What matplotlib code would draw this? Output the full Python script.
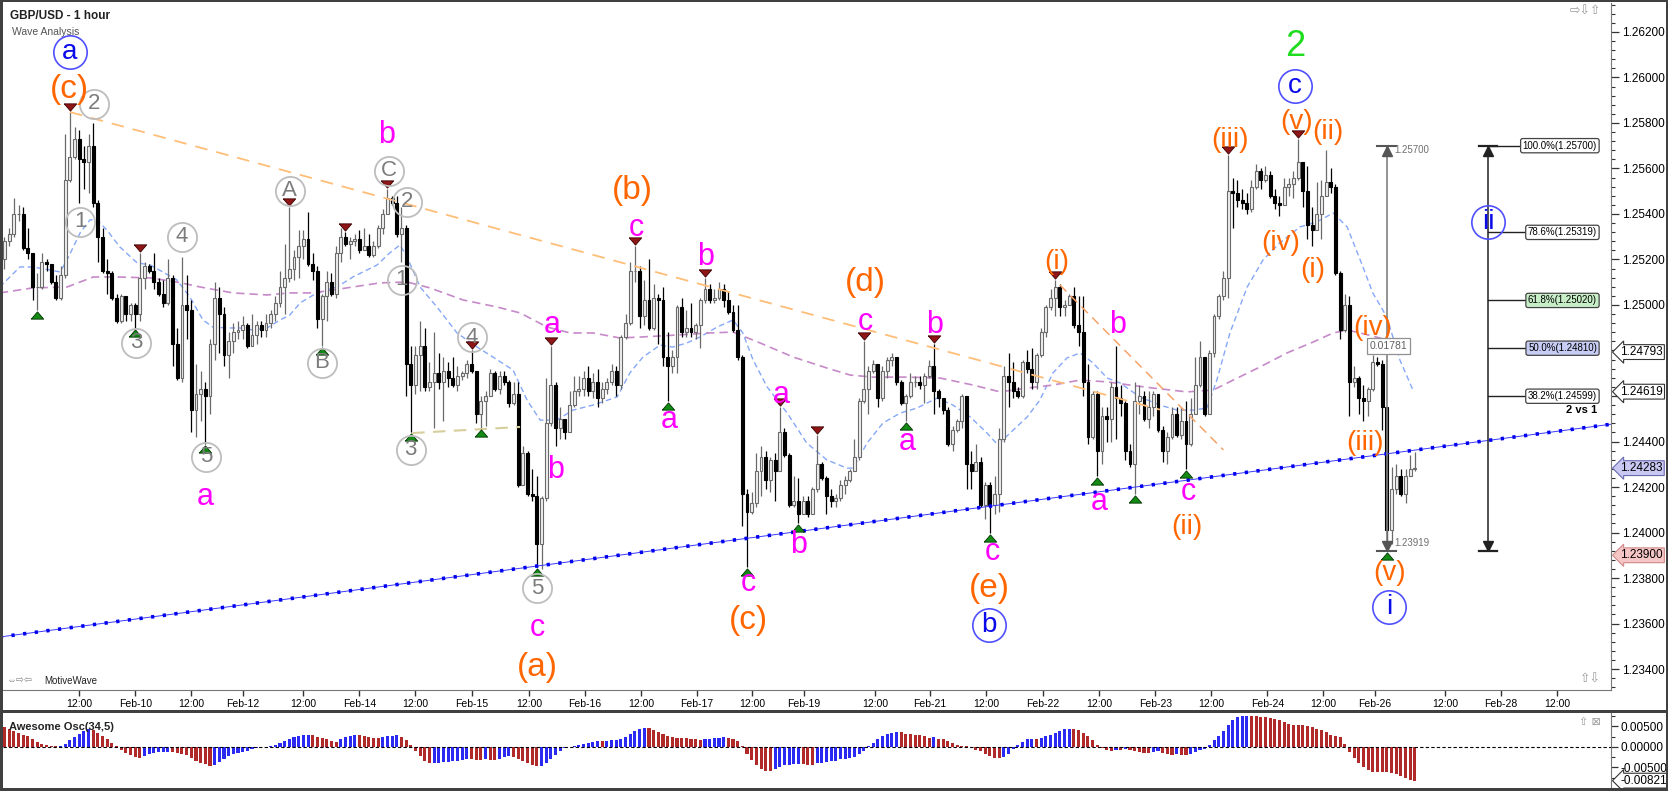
import numpy as np
import matplotlib
matplotlib.use("Agg")
import matplotlib.pyplot as plt
from matplotlib import transforms
from matplotlib.ticker import MultipleLocator, FormatStrFormatter, FuncFormatter
from matplotlib.patches import Rectangle

plt.rcParams['font.family'] = ['Liberation Sans', 'DejaVu Sans']

# ---- GBP/USD hourly candles (open = previous close) ----
first_open = 1.2520
close = [1.2528, 1.2531, 1.2540, 1.2540, 1.2525, 1.2523, 1.2508, 1.2508, 1.2519, 1.2518,
         1.2510, 1.2503, 1.2513, 1.2555, 1.2565, 1.2573, 1.2564, 1.2563, 1.2570, 1.2545,
         1.2530, 1.2515, 1.2514, 1.2503, 1.2493, 1.2504, 1.2496, 1.2500, 1.2496, 1.2512,
         1.2517, 1.2515, 1.2510, 1.2505, 1.2501, 1.2512, 1.2483, 1.2468, 1.2500, 1.2498,
         1.2454, 1.2461, 1.2463, 1.2460, 1.2483, 1.2503, 1.2496, 1.2478, 1.2484, 1.2488,
         1.2489, 1.2491, 1.2482, 1.2487, 1.2491, 1.2489, 1.2492, 1.2496, 1.2501, 1.2508,
         1.2512, 1.2516, 1.2521, 1.2526, 1.2529, 1.2518, 1.2515, 1.2494, 1.2504, 1.2510,
         1.2505, 1.2523, 1.2530, 1.2527, 1.2528, 1.2529, 1.2524, 1.2526, 1.2522, 1.2526,
         1.2534, 1.2540, 1.2547, 1.2545, 1.2531, 1.2534, 1.2474, 1.2465, 1.2478, 1.2482,
         1.2464, 1.2466, 1.2470, 1.2466, 1.2471, 1.2468, 1.2465, 1.2469, 1.2470, 1.2474,
         1.2471, 1.2452, 1.2458, 1.2460, 1.2470, 1.2463, 1.2469, 1.2466, 1.2457, 1.2461,
         1.2421, 1.2435, 1.2417, 1.2416, 1.2395, 1.2415, 1.2448, 1.2465, 1.2446, 1.2450,
         1.2444, 1.2456, 1.2462, 1.2463, 1.2468, 1.2462, 1.2466, 1.2459, 1.2463, 1.2466,
         1.2471, 1.2465, 1.2486, 1.2492, 1.2515, 1.2515, 1.2495, 1.2502, 1.2490, 1.2503,
         1.2502, 1.2477, 1.2473, 1.2477, 1.2499, 1.2488, 1.2490, 1.2488, 1.2491, 1.2502,
         1.2507, 1.2502, 1.2503, 1.2507, 1.2502, 1.2497, 1.2489, 1.2477, 1.2417, 1.2409,
         1.2413, 1.2427, 1.2433, 1.2423, 1.2432, 1.2427, 1.2444, 1.2434, 1.2412, 1.2414,
         1.2408, 1.2414, 1.2408, 1.2419, 1.2430, 1.2424, 1.2416, 1.2414, 1.2415, 1.2421,
         1.2423, 1.2427, 1.2433, 1.2458, 1.2463, 1.2471, 1.2474, 1.2459, 1.2471, 1.2476,
         1.2477, 1.2466, 1.2457, 1.2460, 1.2466, 1.2466, 1.2465, 1.2469, 1.2473, 1.2462,
         1.2459, 1.2454, 1.2439, 1.2445, 1.2449, 1.2460, 1.2430, 1.2427, 1.2431, 1.2412,
         1.2421, 1.2412, 1.2417, 1.2441, 1.2469, 1.2466, 1.2462, 1.2460, 1.2475, 1.2472,
         1.2466, 1.2478, 1.2488, 1.2499, 1.2503, 1.2508, 1.2499, 1.2500, 1.2504, 1.2491,
         1.2488, 1.2466, 1.2442, 1.2461, 1.2436, 1.2451, 1.2450, 1.2464, 1.2459, 1.2457,
         1.2436, 1.2430, 1.2458, 1.2460, 1.2450, 1.2455, 1.2461, 1.2445, 1.2436, 1.2442,
         1.2452, 1.2443, 1.2449, 1.2439, 1.2452, 1.2465, 1.2477, 1.2452, 1.2479, 1.2495,
         1.2504, 1.2512, 1.2550, 1.2549, 1.2546, 1.2545, 1.2542, 1.2552, 1.2559, 1.2555,
         1.2557, 1.2548, 1.2545, 1.2544, 1.2552, 1.2553, 1.2556, 1.2563, 1.2550, 1.2535,
         1.2533, 1.2540, 1.2548, 1.2554, 1.2552, 1.2514, 1.2489, 1.2500, 1.2466, 1.2468,
         1.2459, 1.2458, 1.2463, 1.2475, 1.2474, 1.2455, 1.2401, 1.2419, 1.2425, 1.2417,
         1.2425, 1.2428, 1.24283]
high = [1.2530, 1.2534, 1.2547, 1.2544, 1.2543, 1.2534, 1.2523, 1.2514, 1.2523, 1.2520,
        1.2518, 1.2513, 1.2517, 1.2575, 1.2585, 1.2578, 1.2577, 1.2570, 1.2575, 1.2580,
        1.2546, 1.2534, 1.2520, 1.2515, 1.2505, 1.2505, 1.2504, 1.2501, 1.2501, 1.2523,
        1.2519, 1.2518, 1.2523, 1.2512, 1.2511, 1.2520, 1.2513, 1.2490, 1.2521, 1.2513,
        1.2502, 1.2474, 1.2471, 1.2466, 1.2485, 1.2510, 1.2508, 1.2499, 1.2488, 1.2492,
        1.2493, 1.2495, 1.2492, 1.2496, 1.2493, 1.2493, 1.2496, 1.2498, 1.2504, 1.2515,
        1.2527, 1.2543, 1.2524, 1.2533, 1.2533, 1.2541, 1.2523, 1.2517, 1.2505, 1.2515,
        1.2514, 1.2526, 1.2534, 1.2532, 1.2530, 1.2531, 1.2533, 1.2534, 1.2531, 1.2528,
        1.2535, 1.2542, 1.2551, 1.2548, 1.2548, 1.2543, 1.2535, 1.2482, 1.2482, 1.2493,
        1.2490, 1.2475, 1.2488, 1.2479, 1.2477, 1.2475, 1.2477, 1.2473, 1.2471, 1.2476,
        1.2480, 1.2471, 1.2460, 1.2462, 1.2472, 1.2471, 1.2471, 1.2471, 1.2467, 1.2466,
        1.2466, 1.2438, 1.2436, 1.2428, 1.2425, 1.2416, 1.2468, 1.2482, 1.2466, 1.2455,
        1.2449, 1.2462, 1.2469, 1.2469, 1.2471, 1.2473, 1.2470, 1.2472, 1.2466, 1.2468,
        1.2474, 1.2473, 1.2487, 1.2496, 1.2519, 1.2526, 1.2517, 1.2511, 1.2520, 1.2509,
        1.2505, 1.2508, 1.2488, 1.2480, 1.2500, 1.2503, 1.2498, 1.2501, 1.2492, 1.2503,
        1.2512, 1.2509, 1.2507, 1.2510, 1.2509, 1.2506, 1.2500, 1.2500, 1.2478, 1.2419,
        1.2418, 1.2435, 1.2438, 1.2436, 1.2433, 1.2435, 1.2455, 1.2446, 1.2435, 1.2425,
        1.2424, 1.2416, 1.2416, 1.2420, 1.2443, 1.2431, 1.2425, 1.2419, 1.2417, 1.2423,
        1.2425, 1.2428, 1.2441, 1.2459, 1.2484, 1.2473, 1.2476, 1.2474, 1.2473, 1.2477,
        1.2479, 1.2477, 1.2467, 1.2461, 1.2470, 1.2469, 1.2469, 1.2470, 1.2476, 1.2483,
        1.2463, 1.2459, 1.2455, 1.2447, 1.2450, 1.2461, 1.2460, 1.2436, 1.2439, 1.2433,
        1.2422, 1.2422, 1.2425, 1.2446, 1.2473, 1.2479, 1.2475, 1.2464, 1.2476, 1.2480,
        1.2481, 1.2479, 1.2490, 1.2500, 1.2507, 1.2511, 1.2509, 1.2502, 1.2505, 1.2508,
        1.2504, 1.2504, 1.2474, 1.2462, 1.2462, 1.2455, 1.2455, 1.2466, 1.2482, 1.2465,
        1.2458, 1.2439, 1.2466, 1.2465, 1.2462, 1.2462, 1.2462, 1.2457, 1.2447, 1.2444,
        1.2455, 1.2455, 1.2455, 1.2458, 1.2459, 1.2477, 1.2484, 1.2477, 1.2480, 1.2496,
        1.2505, 1.2515, 1.2566, 1.2556, 1.2555, 1.2551, 1.2549, 1.2555, 1.2562, 1.2560,
        1.2561, 1.2559, 1.2551, 1.2548, 1.2556, 1.2556, 1.2559, 1.2573, 1.2560, 1.2561,
        1.2543, 1.2554, 1.2555, 1.2568, 1.2560, 1.2553, 1.2515, 1.2505, 1.2504, 1.2473,
        1.2469, 1.2465, 1.2464, 1.2478, 1.2477, 1.2476, 1.2455, 1.2429, 1.2430, 1.2428,
        1.2428, 1.2434, 1.24355]
low = [1.2516, 1.2526, 1.2530, 1.2537, 1.2524, 1.2520, 1.2502, 1.2498, 1.2507, 1.2515,
       1.2509, 1.2502, 1.2502, 1.2512, 1.2554, 1.2564, 1.2545, 1.2551, 1.2549, 1.2543,
       1.2519, 1.2514, 1.2505, 1.2502, 1.2492, 1.2492, 1.2493, 1.2493, 1.2490, 1.2493,
       1.2507, 1.2514, 1.2507, 1.2504, 1.2499, 1.2500, 1.2473, 1.2467, 1.2466, 1.2485,
       1.2444, 1.2442, 1.2449, 1.2439, 1.2452, 1.2476, 1.2479, 1.2473, 1.2468, 1.2479,
       1.2485, 1.2485, 1.2481, 1.2482, 1.2483, 1.2486, 1.2486, 1.2490, 1.2493, 1.2499,
       1.2496, 1.2510, 1.2511, 1.2512, 1.2520, 1.2517, 1.2511, 1.2490, 1.2482, 1.2493,
       1.2504, 1.2503, 1.2519, 1.2526, 1.2520, 1.2526, 1.2523, 1.2525, 1.2521, 1.2521,
       1.2525, 1.2531, 1.2540, 1.2544, 1.2530, 1.2519, 1.2460, 1.2444, 1.2461, 1.2462,
       1.2462, 1.2462, 1.2446, 1.2463, 1.2449, 1.2464, 1.2464, 1.2462, 1.2467, 1.2468,
       1.2470, 1.2448, 1.2446, 1.2447, 1.2460, 1.2462, 1.2461, 1.2465, 1.2455, 1.2456,
       1.2420, 1.2421, 1.2416, 1.2414, 1.2385, 1.2384, 1.2414, 1.2447, 1.2438, 1.2441,
       1.2441, 1.2444, 1.2455, 1.2460, 1.2460, 1.2460, 1.2459, 1.2455, 1.2457, 1.2461,
       1.2465, 1.2460, 1.2463, 1.2485, 1.2491, 1.2510, 1.2490, 1.2491, 1.2489, 1.2489,
       1.2483, 1.2473, 1.2458, 1.2470, 1.2470, 1.2486, 1.2486, 1.2486, 1.2485, 1.2481,
       1.2501, 1.2501, 1.2501, 1.2502, 1.2499, 1.2496, 1.2488, 1.2476, 1.2403, 1.2385,
       1.2408, 1.2411, 1.2416, 1.2419, 1.2418, 1.2414, 1.2427, 1.2433, 1.2411, 1.2411,
       1.2404, 1.2408, 1.2407, 1.2408, 1.2418, 1.2423, 1.2408, 1.2411, 1.2411, 1.2414,
       1.2417, 1.2422, 1.2427, 1.2432, 1.2457, 1.2452, 1.2470, 1.2455, 1.2458, 1.2468,
       1.2473, 1.2465, 1.2456, 1.2449, 1.2459, 1.2464, 1.2463, 1.2457, 1.2468, 1.2452,
       1.2455, 1.2452, 1.2438, 1.2436, 1.2444, 1.2446, 1.2419, 1.2419, 1.2427, 1.2411,
       1.2406, 1.2400, 1.2408, 1.2409, 1.2440, 1.2455, 1.2459, 1.2459, 1.2459, 1.2470,
       1.2463, 1.2463, 1.2477, 1.2486, 1.2498, 1.2495, 1.2495, 1.2495, 1.2501, 1.2490,
       1.2482, 1.2460, 1.2439, 1.2441, 1.2425, 1.2430, 1.2440, 1.2440, 1.2441, 1.2451,
       1.2432, 1.2429, 1.2417, 1.2452, 1.2449, 1.2446, 1.2451, 1.2444, 1.2431, 1.2430,
       1.2441, 1.2442, 1.2441, 1.2428, 1.2438, 1.2452, 1.2464, 1.2451, 1.2452, 1.2477,
       1.2494, 1.2502, 1.2503, 1.2534, 1.2543, 1.2542, 1.2540, 1.2541, 1.2551, 1.2551,
       1.2554, 1.2547, 1.2542, 1.2539, 1.2544, 1.2548, 1.2547, 1.2555, 1.2543, 1.2529,
       1.2526, 1.2534, 1.2529, 1.2551, 1.2549, 1.2513, 1.2485, 1.2488, 1.2451, 1.2464,
       1.2452, 1.2449, 1.2451, 1.2462, 1.2473, 1.2445, 1.23919, 1.2395, 1.2417, 1.2416,
       1.2413, 1.2425, 1.2427]

# Awesome Oscillator (34,5), one bar per candle
ao = [0.00488, 0.00431, 0.00382, 0.00341, 0.00301, 0.00260, 0.00203, 0.00122, 0.00065, 0.00041,
      0.00024, 0.00016, 0.00024, 0.00073, 0.00163, 0.00244, 0.00325, 0.00398, 0.00447, 0.00415,
      0.00350, 0.00268, 0.00187, 0.00106, 0.00024, -0.00065, -0.00146, -0.00203, -0.00244, -0.00260,
      -0.00220, -0.00179, -0.00154, -0.00130, -0.00122, -0.00114, -0.00130, -0.00154, -0.00179, -0.00203,
      -0.00268, -0.00333, -0.00382, -0.00423, -0.00455, -0.00431, -0.00366, -0.00285, -0.00211, -0.00171,
      -0.00146, -0.00122, -0.00089, -0.00049, -0.00024, -0.00008, 0.00008, 0.00024, 0.00057, 0.00098,
      0.00154, 0.00203, 0.00236, 0.00268, 0.00285, 0.00301, 0.00285, 0.00252, 0.00220, 0.00187,
      0.00146, 0.00122, 0.00187, 0.00236, 0.00268, 0.00285, 0.00285, 0.00260, 0.00244, 0.00228,
      0.00228, 0.00244, 0.00260, 0.00268, 0.00285, 0.00252, 0.00171, 0.00041, -0.00106, -0.00220,
      -0.00333, -0.00398, -0.00390, -0.00382, -0.00374, -0.00366, -0.00350, -0.00333, -0.00317, -0.00301,
      -0.00301, -0.00309, -0.00309, -0.00301, -0.00309, -0.00317, -0.00285, -0.00252, -0.00228, -0.00252,
      -0.00285, -0.00333, -0.00382, -0.00431, -0.00472, -0.00455, -0.00382, -0.00301, -0.00203, -0.00106,
      -0.00024, 0.00008, 0.00024, 0.00041, 0.00073, 0.00098, 0.00122, 0.00138, 0.00138, 0.00154,
      0.00163, 0.00179, 0.00203, 0.00252, 0.00317, 0.00390, 0.00439, 0.00463, 0.00455, 0.00415,
      0.00366, 0.00317, 0.00276, 0.00244, 0.00228, 0.00220, 0.00211, 0.00203, 0.00203, 0.00171,
      0.00187, 0.00203, 0.00211, 0.00220, 0.00236, 0.00228, 0.00203, 0.00138, 0.00024, -0.00163,
      -0.00325, -0.00431, -0.00545, -0.00593, -0.00593, -0.00545, -0.00488, -0.00447, -0.00431, -0.00423,
      -0.00415, -0.00423, -0.00431, -0.00431, -0.00398, -0.00382, -0.00366, -0.00350, -0.00333, -0.00301,
      -0.00285, -0.00268, -0.00236, -0.00171, -0.00098, 0.00016, 0.00106, 0.00203, 0.00268, 0.00309,
      0.00341, 0.00366, 0.00366, 0.00325, 0.00309, 0.00293, 0.00285, 0.00268, 0.00228, 0.00236,
      0.00203, 0.00187, 0.00146, 0.00098, 0.00057, 0.00033, 0.00016, -0.00016, -0.00065, -0.00106,
      -0.00163, -0.00220, -0.00268, -0.00268, -0.00244, -0.00163, -0.00057, 0.00041, 0.00122, 0.00187,
      0.00203, 0.00203, 0.00220, 0.00260, 0.00301, 0.00350, 0.00398, 0.00431, 0.00439, 0.00439,
      0.00407, 0.00350, 0.00268, 0.00163, 0.00057, -0.00024, -0.00081, -0.00106, -0.00065, -0.00065,
      -0.00041, -0.00065, -0.00098, -0.00122, -0.00138, -0.00146, -0.00130, -0.00106, -0.00146, -0.00179,
      -0.00187, -0.00171, -0.00187, -0.00187, -0.00171, -0.00122, -0.00065, -0.00041, 0.00041, 0.00163,
      0.00268, 0.00382, 0.00545, 0.00667, 0.00724, 0.00756, 0.00764, 0.00756, 0.00748, 0.00732,
      0.00724, 0.00707, 0.00691, 0.00659, 0.00610, 0.00569, 0.00545, 0.00537, 0.00528, 0.00512,
      0.00496, 0.00447, 0.00407, 0.00366, 0.00285, 0.00268, 0.00244, 0.00081, -0.00122, -0.00268,
      -0.00382, -0.00488, -0.00569, -0.00610, -0.00610, -0.00610, -0.00610, -0.00626, -0.00667, -0.00715,
      -0.00750, -0.00795, -0.00821]

# moving averages drawn on the chart (candle index, price)
ma_fast_x = [-1.0, 3.3, 6.1, 9.7, 11.9, 13.4, 16.2, 18.3, 19.8, 21.9, 24.7, 28.4, 31.2, 33.9, 36.9,
             39.7, 42.5, 44.6, 47.6, 50.4, 53.2, 56.2, 59.0, 61.1, 63.3, 66.9, 71.2, 74.6, 79.8, 82.5,
             84.7, 86.2, 89.0, 92.6, 96.9, 101.2, 104.6, 108.9, 111.9, 114.7, 118.3, 121.7, 126.0,
             131.2, 133.9, 136.7, 140.4, 143.1, 146.1, 148.9, 152.6, 156.0, 158.1, 160.3, 163.3, 167.6,
             171.8, 176.1, 180.4, 181.7, 184.7, 188.1, 191.8, 195.4, 199.7, 203.1, 206.8, 210.4, 212.7,
             215.3, 219.0, 221.7, 224.5, 227.5, 230.3, 233.1, 236.1, 238.9, 243.1, 247.4, 251.1, 254.5,
             257.5, 259.6, 262.4, 266.1, 269.5, 273.1, 277.4, 281.0, 284.5, 287.5, 290.3, 293.0, 296.0,
             298.8, 301.6]
ma_fast_y = [1.25079, 1.25167, 1.25167, 1.25154, 1.25145, 1.25198, 1.25317, 1.25374, 1.25374, 1.25330,
             1.25255, 1.25185, 1.25176, 1.25145, 1.25110, 1.25035, 1.24934, 1.24903, 1.24899, 1.24899,
             1.24890, 1.24899, 1.24934, 1.24956, 1.25009, 1.25053, 1.25079, 1.25123, 1.25176, 1.25229,
             1.25264, 1.25211, 1.25079, 1.24991, 1.24877, 1.24815, 1.24771, 1.24714, 1.24582, 1.24494,
             1.24494, 1.24538, 1.24560, 1.24596, 1.24701, 1.24771, 1.24824, 1.24815, 1.24833, 1.24859,
             1.24903, 1.24934, 1.24877, 1.24758, 1.24640, 1.24525, 1.24393, 1.24319, 1.24283, 1.24283,
             1.24393, 1.24481, 1.24525, 1.24547, 1.24591, 1.24560, 1.24508, 1.24437, 1.24385, 1.24437,
             1.24508, 1.24582, 1.24701, 1.24767, 1.24789, 1.24745, 1.24679, 1.24657, 1.24596, 1.24560,
             1.24538, 1.24538, 1.24547, 1.24670, 1.24877, 1.25079, 1.25198, 1.25273, 1.25343, 1.25365,
             1.25404, 1.25343, 1.25198, 1.25053, 1.24947, 1.24758, 1.24626]
ma_slow_x = [-1.0, 6.1, 13.4, 19.0, 24.1, 31.2, 36.9, 41.9, 48.9, 56.2, 61.1, 66.1, 73.3, 80.4, 86.2,
             91.1, 98.2, 105.5, 110.4, 116.2, 121.1, 126.0, 131.8, 136.1, 144.0, 151.1, 156.0, 161.8,
             168.9, 176.1, 181.1, 186.0, 193.3, 200.3, 207.4, 213.2, 219.0, 224.5, 230.3, 236.1, 241.0,
             245.9, 253.2, 258.8, 263.1, 268.8, 274.6, 280.2, 284.5, 287.5, 290.3, 294.5, 298.2, 301.0]
ma_slow_y = [1.25053, 1.25075, 1.25079, 1.25123, 1.25123, 1.25119, 1.25101, 1.25079, 1.25053, 1.25044,
             1.25053, 1.25053, 1.25075, 1.25097, 1.25101, 1.25075, 1.25022, 1.24991, 1.24965, 1.24903,
             1.24877, 1.24877, 1.24855, 1.24859, 1.24868, 1.24877, 1.24881, 1.24833, 1.24771, 1.24723,
             1.24692, 1.24683, 1.24683, 1.24679, 1.24648, 1.24618, 1.24635, 1.24648, 1.24670, 1.24662,
             1.24648, 1.24635, 1.24618, 1.24626, 1.24670, 1.24727, 1.24789, 1.24837, 1.24877, 1.24890,
             1.24877, 1.24855, 1.24833, 1.24811]

# trend lines (two end points each)
support_x, support_y = [-1.0, 344.0], [1.23541, 1.24476]
resist_x, resist_y = [14.0, 247.4], [1.25848, 1.24540]
steep_x, steep_y = [226.0, 261.0], [1.25088, 1.24363]
flat_x, flat_y = [87.3, 110.4], [1.24437, 1.24464]

# swing markers
swing_highs = [14, 29, 61, 73, 82, 100, 117, 135, 150, 166, 174, 184, 199, 225, 262, 277]
swing_lows = [7, 28, 43, 68, 87, 102, 114, 142, 159, 170, 193, 211, 234, 242, 253, 296]

# wave labels (text, candle index, price)
gray_waves = [("2", 19.2, 1.25884), ("1", 16.2, 1.25365), ("4", 38.0, 1.25299), ("3", 28.2, 1.24833),
              ("5", 43.1, 1.24332), ("A", 61.1, 1.25501), ("B", 68.0, 1.24745), ("C", 82.3, 1.25589),
              ("2", 86.2, 1.25453), ("1", 85.1, 1.25110), ("3", 87.0, 1.24363), ("4", 100.1, 1.24859),
              ("5", 114.0, 1.23756)]
pink_waves = [("a", 42.9, 1.24156), ("b", 81.9, 1.25747), ("a", 117.2, 1.24912), ("b", 117.9, 1.24275),
              ("c", 114.0, 1.23580), ("c", 135.2, 1.25338), ("b", 150.2, 1.25211), ("a", 142.3, 1.24495),
              ("a", 166.3, 1.24604), ("b", 170.1, 1.23945), ("c", 159.2, 1.23778), ("c", 184.3, 1.24925),
              ("b", 199.2, 1.24912), ("a", 193.3, 1.24398), ("c", 211.5, 1.23914), ("b", 238.4, 1.24912),
              ("a", 234.4, 1.24134), ("c", 253.4, 1.24178)]
orange_waves = [("(c)", 14.0, 1.25945), ("(a)", 114.0, 1.23409), ("(b)", 134.4, 1.25505),
                ("(c)", 159.2, 1.23615), ("(d)", 184.3, 1.25097), ("(e)", 210.8, 1.23756)]
orange_minor = [("(i)", 225.4, 1.25189), ("(ii)", 253.2, 1.24024), ("(iii)", 262.4, 1.25725),
                ("(v)", 276.6, 1.25804), ("(ii)", 283.4, 1.25760), ("(iv)", 273.3, 1.25273),
                ("(i)", 280.2, 1.25154), ("(iv)", 293.0, 1.24899), ("(iii)", 291.3, 1.24393),
                ("(v)", 296.5, 1.23822)]
blue_waves = [("a", 14.0, 1.26112), ("c", 276.3, 1.25963), ("b", 210.8, 1.23593),
              ("i", 296.5, 1.23673), ("ii", 317.7, 1.25365)]

# retracement tool
fib_labels = ["100.0%", "78.6%", "61.8%", "50.0%", "38.2%"]
fib_prices = [1.25700, 1.25319, 1.25020, 1.24810, 1.24599]
fib_colors = ["white", "white", "#c8eec8", "#c6ccf4", "white"]
swing_top, swing_bottom = 1.25700, 1.23919

# time axis
tick_pos = [16, 28, 40, 51, 64, 76, 88, 100, 112.3, 124.3, 136.3, 148.3, 160.1, 171.2, 186.4,
            198.2, 210.2, 222.4, 234.4, 246.4, 258.4, 270.4, 282.3, 293.5, 308.5, 320.4, 332.4]
tick_lab = ["12:00", "Feb-10", "12:00", "Feb-12", "12:00", "Feb-14", "12:00", "Feb-15", "12:00",
            "Feb-16", "12:00", "Feb-17", "12:00", "Feb-19", "12:00", "Feb-21", "12:00", "Feb-22",
            "12:00", "Feb-23", "12:00", "Feb-24", "12:00", "Feb-26", "12:00", "Feb-28", "12:00"]

# price flags on the right axis
flag_prices = [1.24793, 1.24619, 1.24283, 1.23900]
flag_faces = ["white", "white", "#c8c8f2", "#f6c6c6"]
flag_edges = ["#333333", "#333333", "#6a6ab0", "#d08a8a"]

W, H = 1668, 791
fig = plt.figure(figsize=(W / 100, H / 100), dpi=100)


def px_rect(x0, y0, x1, y1):
    return [x0 / W, 1 - y1 / H, (x1 - x0) / W, (y1 - y0) / H]


ax = fig.add_axes(px_rect(3, 3, 1611, 690))
osc = fig.add_axes(px_rect(3, 713, 1611, 788))
ax.set_xlim(-0.32, 344.0)
ax.set_ylim(1.23308, 1.26327)
osc.set_xlim(-0.32, 344.0)
osc.set_ylim(-0.0100, 0.00829)

# candles
idx = np.arange(len(close))
c = np.array(close)
o = np.array([first_open] + close[:-1])
hi = np.array(high)
lo = np.array(low)
rise = c >= o
for m, face, edge in [(rise, "#f0f0f0", "#6a6a6a"), (~rise, "black", "black")]:
    ax.vlines(idx[m], lo[m], hi[m], color=edge, lw=0.9, zorder=3)
    ax.bar(idx[m], np.abs(c - o)[m], bottom=np.minimum(o, c)[m], width=0.62,
           color=face, edgecolor=edge, lw=0.8, zorder=4)

# moving averages
ax.plot(ma_fast_x, ma_fast_y, color="#86a8f8", lw=1.0, dashes=(4, 2.5), zorder=2)
ax.plot(ma_slow_x, ma_slow_y, color="#c68ac9", lw=1.2, dashes=(5, 3), zorder=2)

# trend lines
ax.plot(support_x, support_y, color="#3a3aff", lw=0.7, zorder=5)
ax.plot(support_x, support_y, color="#0000ee", lw=2.6, linestyle=(0, (0.9, 2.35)), zorder=5)
ax.plot(resist_x, resist_y, color="#ffbe78", lw=1.3, dashes=(7, 5), zorder=5)
ax.plot(steep_x, steep_y, color="#f6a46a", lw=1.1, dashes=(6, 4), zorder=5)
ax.plot(flat_x, flat_y, color="#d6cf9c", lw=1.5, dashes=(6, 4), zorder=5)

# swing markers
tri_down = [(-6, 3.5), (6, 3.5), (0, -3.5), (-6, 3.5)]
tri_up = [(-6, -3.5), (6, -3.5), (0, 3.5), (-6, -3.5)]
up_tf = transforms.offset_copy(ax.transData, fig=fig, x=0, y=5, units="dots")
dn_tf = transforms.offset_copy(ax.transData, fig=fig, x=0, y=-5, units="dots")
ax.plot(swing_highs, hi[swing_highs], ls="none", marker=tri_down, ms=9, mfc="#8e1616",
        mec="#3a0000", mew=0.6, transform=up_tf, zorder=6)
ax.plot(swing_lows, lo[swing_lows], ls="none", marker=tri_up, ms=9, mfc="#138a13",
        mec="#003300", mew=0.6, transform=dn_tf, zorder=6)

# wave labels
for s, xi, yp in gray_waves:
    ax.plot(xi, yp, "o", ms=21, mfc="none", mec="#bdbdbd", mew=1.3, zorder=7)
    ax.text(xi, yp, s, color="#7c7c7c", fontsize=16, ha="center", va="center", zorder=8)
for s, xi, yp in pink_waves:
    ax.text(xi, yp, s, color="#ff00ff", fontsize=22, ha="center", va="center", zorder=8)
for s, xi, yp in orange_waves:
    ax.text(xi, yp, s, color="#ff6600", fontsize=24, ha="center", va="center", zorder=8)
for s, xi, yp in orange_minor:
    ax.text(xi, yp, s, color="#ff6600", fontsize=20, ha="center", va="center", zorder=8)
for s, xi, yp in blue_waves:
    ax.plot(xi, yp, "o", ms=24, mfc="none", mec="#5050ff", mew=1.2, zorder=7)
    ax.text(xi, yp, s, color="#0b0bea", fontsize=20, ha="center", va="center", zorder=8)
ax.text(276.3, 1.26134, "2", color="#1fdc1f", fontsize=26, ha="center", va="center", zorder=8)

# price measure tool
mx = 296
ax.plot([mx, mx], [swing_bottom, swing_top], color="#808080", lw=1.2, zorder=6)
ax.plot([mx - 2, mx + 2], [swing_top, swing_top], color="#555555", lw=1.5, zorder=6)
ax.plot([mx - 2, mx + 2], [swing_bottom, swing_bottom], color="#555555", lw=1.5, zorder=6)
ax.plot(mx, swing_top, ls="none", marker="^", ms=7, color="#555555",
        transform=transforms.offset_copy(ax.transData, fig=fig, y=-5, units="dots"), zorder=6)
ax.plot(mx, swing_bottom, ls="none", marker="v", ms=7, color="#555555",
        transform=transforms.offset_copy(ax.transData, fig=fig, y=5, units="dots"), zorder=6)
ax.text(mx + 1.6, swing_top - 0.00019, "1.25700", fontsize=7, color="#707070", va="center", zorder=8)
ax.text(mx + 1.6, swing_bottom + 0.00035, "1.23919", fontsize=7, color="#707070", va="center", zorder=8)
ax.text(mx + 0.3, 1.2482, "%.5f" % (swing_top - swing_bottom), fontsize=7.5, color="#606060",
        ha="center", va="center", zorder=9,
        bbox=dict(boxstyle="square,pad=0.25", fc="white", ec="#909090", lw=0.9))

# retracement tool
fx = 317.7
ax.plot([fx, fx], [swing_bottom, swing_top], color="#333333", lw=1.2, zorder=6)
ax.plot([fx - 1.9, fx + 1.9], [swing_top, swing_top], color="#222222", lw=1.6, zorder=6)
ax.plot([fx - 1.9, fx + 1.9], [swing_bottom, swing_bottom], color="#222222", lw=1.6, zorder=6)
ax.plot(fx, swing_top, ls="none", marker="^", ms=7, color="#222222",
        transform=transforms.offset_copy(ax.transData, fig=fig, y=-5, units="dots"), zorder=6)
ax.plot(fx, swing_bottom, ls="none", marker="v", ms=7, color="#222222",
        transform=transforms.offset_copy(ax.transData, fig=fig, y=5, units="dots"), zorder=6)
for lab, pr, fc in zip(fib_labels, fib_prices, fib_colors):
    ax.plot([fx, 327], [pr, pr], color="#222222", lw=1.0, zorder=6)
    ax.text(341.0, pr, "%s(%.5f)" % (lab, pr), fontsize=7, ha="right", va="center", zorder=9,
            bbox=dict(boxstyle="round,pad=0.22", fc=fc, ec="#444444", lw=0.9))
ax.text(341.0, 1.24538, "2 vs 1", fontsize=8, fontweight="bold", ha="right", va="center", zorder=9)


# axis labels hidden behind a price flag are not printed
def price_label(v, pos):
    if any(abs(v - f) < 0.0003 for f in flag_prices):
        return ""
    return "%.5f" % v


ax.set_xticks(tick_pos)
ax.set_xticklabels(tick_lab)
ax.tick_params(axis="x", direction="out", length=4, width=1, color="#333333",
               labelsize=7.5, pad=2.5)
ax.yaxis.tick_right()
ax.yaxis.set_major_locator(MultipleLocator(0.002))
ax.yaxis.set_minor_locator(MultipleLocator(0.0004))
ax.yaxis.set_major_formatter(FuncFormatter(price_label))
ax.tick_params(axis="y", which="major", direction="out", length=6, width=0.9, color="#333333",
               labelsize=8.5, pad=2)
ax.tick_params(axis="y", which="minor", direction="out", length=3, width=0.8, color="#333333")
for sp in ["top", "left"]:
    ax.spines[sp].set_visible(False)
ax.spines["bottom"].set_color("#777777")
ax.spines["right"].set_color("#777777")

flag_tf = transforms.blended_transform_factory(ax.transAxes, ax.transData)
for pr, fc, ec in zip(flag_prices, flag_faces, flag_edges):
    ax.text(1.0058, pr, "%.5f" % pr, transform=flag_tf, fontsize=8.5, ha="left", va="center",
            zorder=12, clip_on=False,
            bbox=dict(boxstyle="larrow,pad=0.12", fc=fc, ec=ec, lw=0.8))

# header and small texts
ax.text(0.0043, 0.981, "GBP/USD - 1 hour", transform=ax.transAxes, fontsize=8.5,
        fontweight="bold", color="#222222", va="center")
ax.text(0.0055, 0.958, "Wave Analysis", transform=ax.transAxes, fontsize=7.5,
        color="#555555", va="center")
fig.text(6 / W, 1 - 681 / H, "\u21d4\u21e8\u21e6", fontsize=7, color="#8a8a8a", va="center")
fig.text(44 / W, 1 - 681 / H, "MotiveWave", fontsize=7, color="#222222", va="center")
fig.text(1601 / W, 1 - 12 / H, "\u21e8\u21e9\u21e7", fontsize=9, color="#999999",
         ha="right", va="center")
fig.text(1601 / W, 1 - 680 / H, "\u21e7\u21e9", fontsize=9, color="#999999", ha="right", va="center")
fig.text(1601 / W, 1 - 722 / H, "\u21e7 \u22a0", fontsize=8, color="#999999", ha="right", va="center")

# oscillator
ao_arr = np.array(ao)
rising = np.r_[False, ao_arr[1:] > ao_arr[:-1]]
osc.bar(idx, ao_arr, width=0.66, color=np.where(rising, "#2a2af2", "#b02a2a"), lw=0)
osc.axhline(0, color="black", lw=0.8, dashes=(3, 2))
osc.set_xticks([])
osc.yaxis.tick_right()
osc.set_yticks([-0.005, 0.0, 0.005])
osc.yaxis.set_minor_locator(MultipleLocator(0.0025))
osc.yaxis.set_major_formatter(FormatStrFormatter("%.5f"))
osc.tick_params(axis="y", which="major", direction="out", length=5, width=0.9, color="#333333",
                labelsize=8.5, pad=2)
osc.tick_params(axis="y", which="minor", direction="out", length=3, width=0.8, color="#333333")
osc.spines["left"].set_visible(False)
osc.spines["top"].set_visible(False)
osc.spines["bottom"].set_visible(False)
osc.spines["right"].set_color("#777777")
osc.text(0.004, 0.82, "Awesome Osc(34,5)", transform=osc.transAxes, fontsize=8,
         fontweight="bold", color="#222222", va="center")
osc_tf = transforms.blended_transform_factory(osc.transAxes, osc.transData)
osc.text(1.0058, ao[-1], "%.5f" % ao[-1], transform=osc_tf, fontsize=8.5, ha="left", va="center",
         zorder=12, clip_on=False, bbox=dict(boxstyle="larrow,pad=0.12", fc="white", ec="#333333", lw=0.8))

# window frame
for x0, y0, x1, y1 in [(0, 0, 3, 791), (0, 0, 1668, 1.5), (0, 788, 1668, 791),
                       (0, 710, 1668, 713), (1666, 0, 1668, 791)]:
    fig.add_artist(Rectangle((x0 / W, 1 - y1 / H), (x1 - x0) / W, (y1 - y0) / H,
                             transform=fig.transFigure, color="#404040", lw=0))

fig.savefig("out.png", dpi=100)
